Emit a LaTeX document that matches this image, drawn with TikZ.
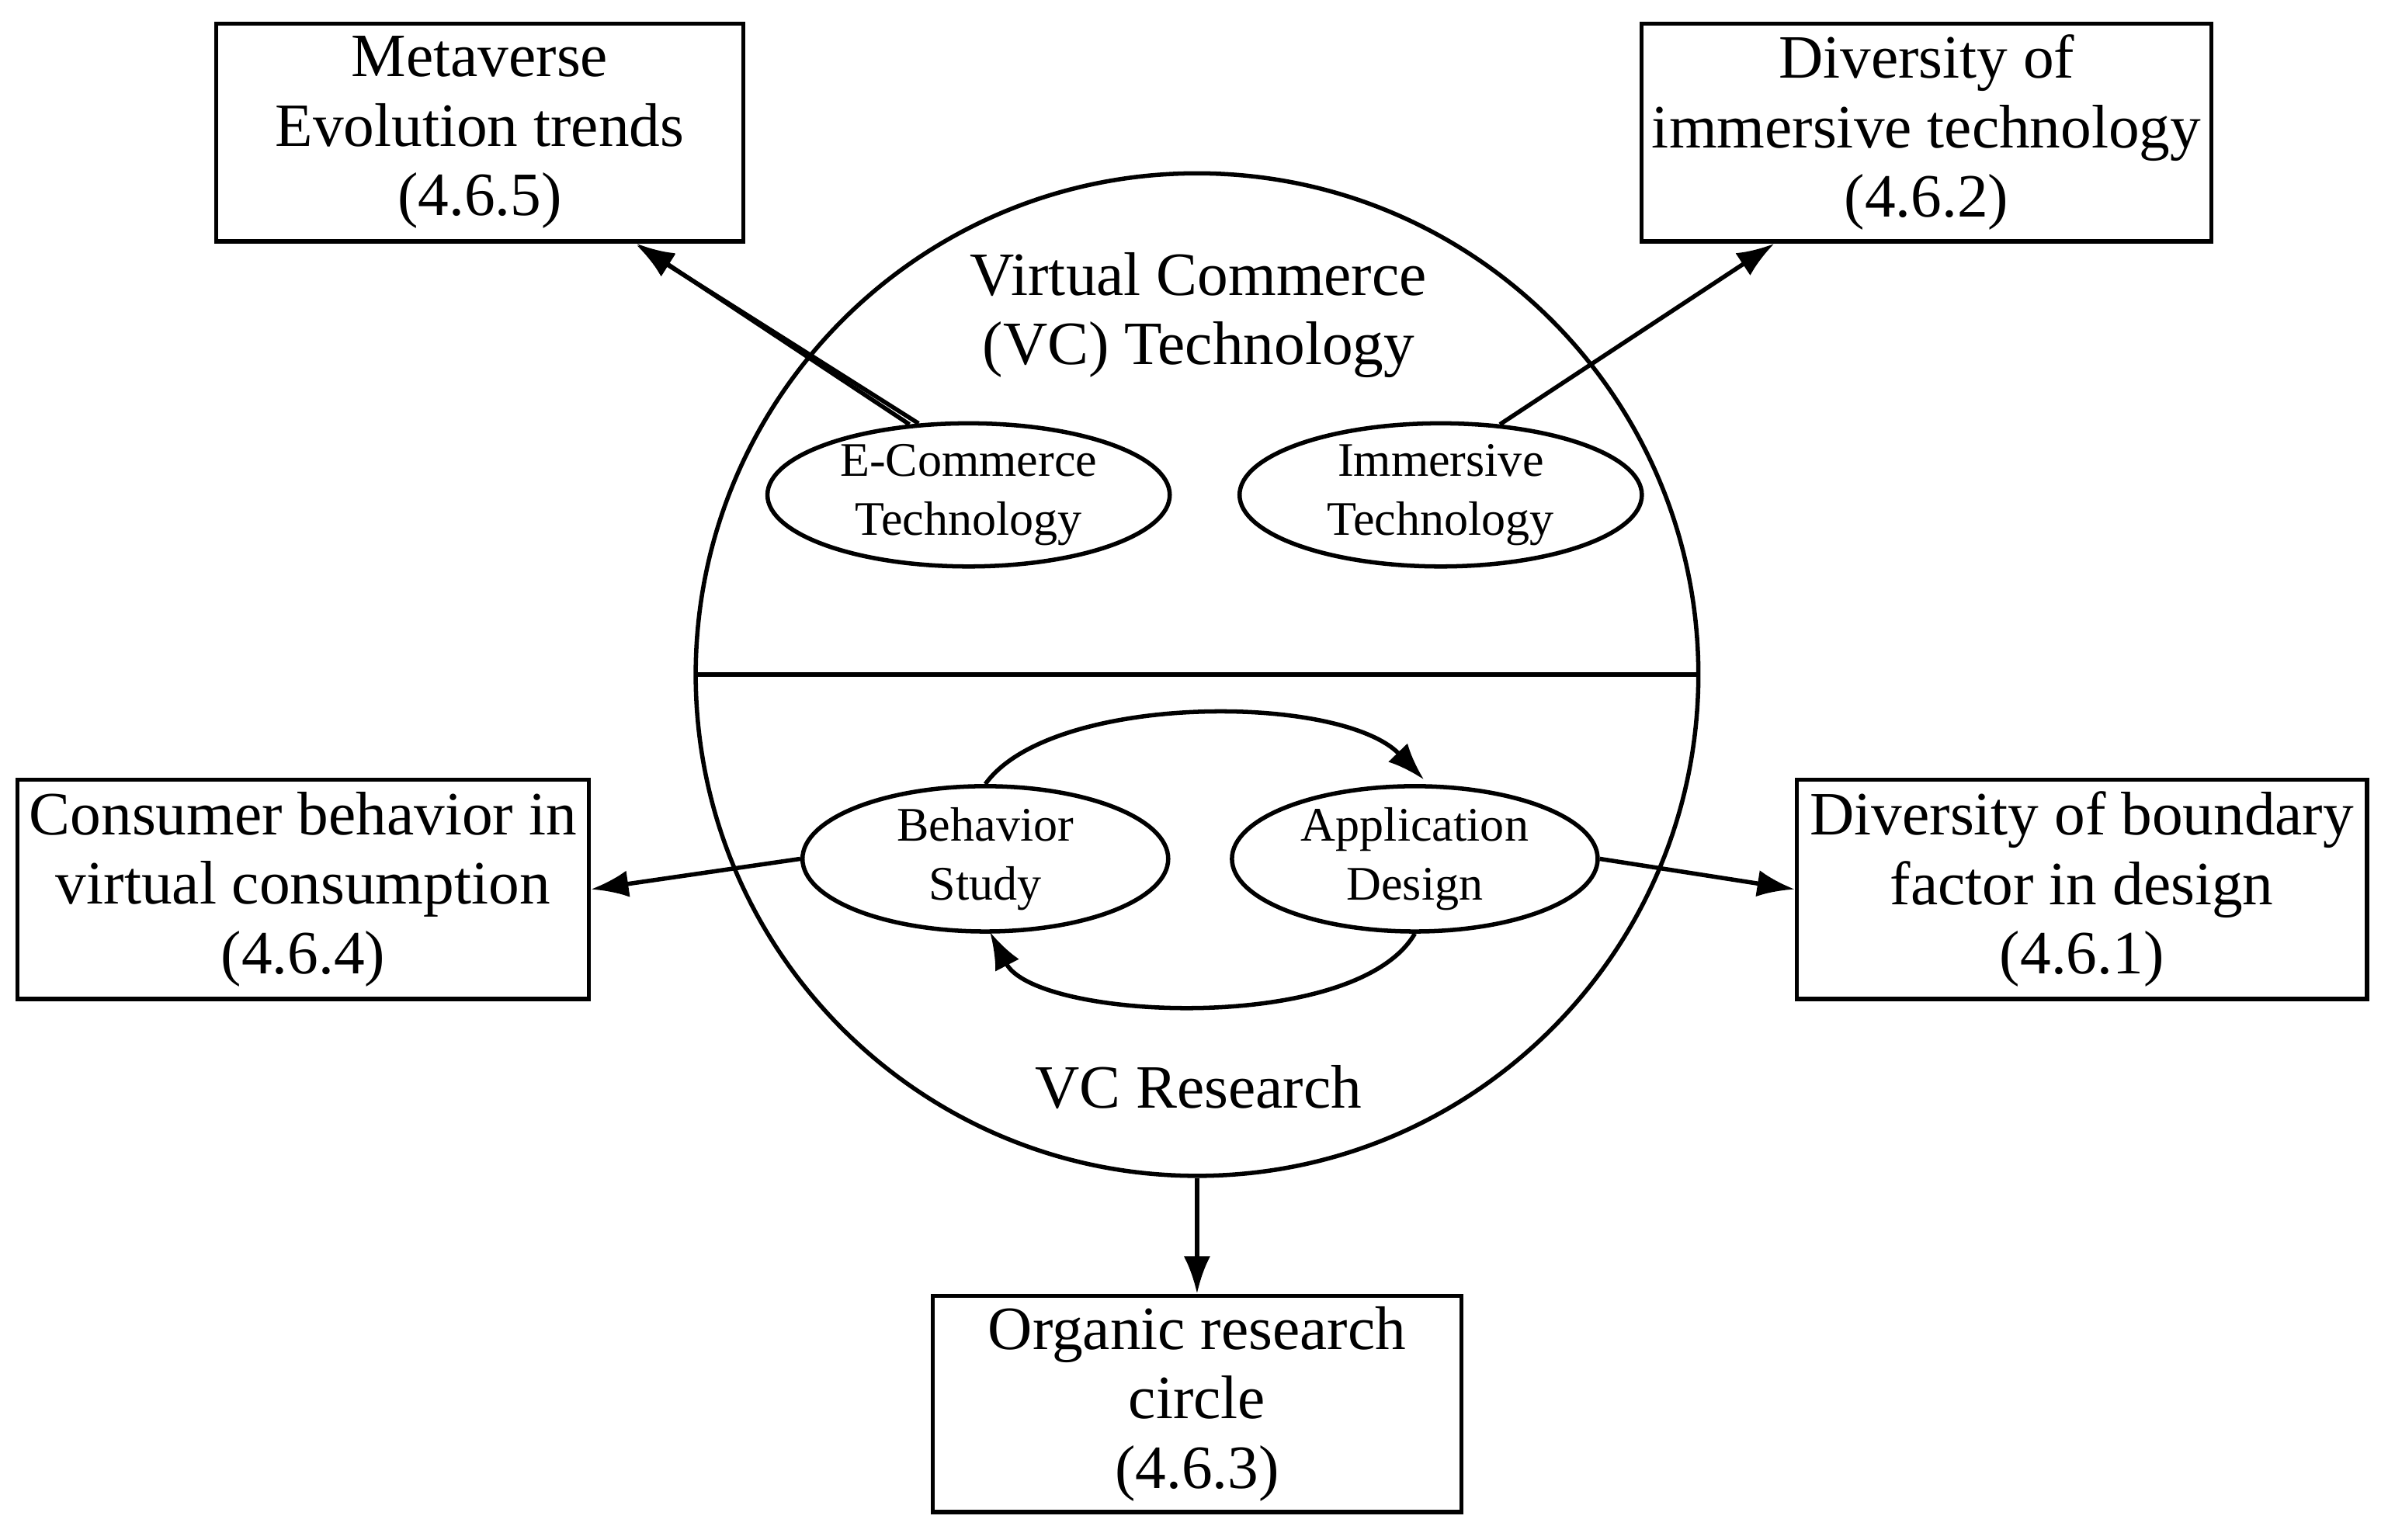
\documentclass[tikz,border=0pt]{standalone}
\usepackage{fontspec}
\setmainfont{Liberation Serif}
\usetikzlibrary{shapes.geometric,arrows.meta}
\begin{document}
\begin{tikzpicture}[x=0.01cm,y=-0.01cm,
  box/.style={draw,line width=0.8pt,align=center,font=\fontsize{11.5}{13}\selectfont,inner sep=0},
  ell/.style={draw,ellipse,line width=0.8pt,minimum width=#1,align=center,font=\fontsize{9}{11}\selectfont,inner sep=0,minimum height=0.8cm},
  arr/.style={line width=0.8pt,-{Latex[length=7pt,width=5pt]}}]
\useasboundingbox (0,0) rectangle (1568,1011);
\node[circle,draw,line width=0.8pt,minimum size=6.58cm,inner sep=0] (c) at (786,443) {};
\coordinate (cl) at (458,443); \coordinate (cr) at (1115,443);
\draw[line width=0.8pt] (cl) -- (cr);
\node[box,minimum width=3.46cm,minimum height=1.43cm] (m) at (315,87) {Metaverse\\Evolution trends\\(4.6.5)};
\node[box,minimum width=3.74cm,minimum height=1.43cm] (d) at (1265,87) {Diversity of\\immersive technology\\(4.6.2)};
\node[box,minimum width=3.75cm,minimum height=1.44cm] (cb) at (199,584) {Consumer behavior in\\virtual consumption\\(4.6.4)};
\node[box,minimum width=3.74cm,minimum height=1.44cm] (b) at (1367,584) {Diversity of boundary\\factor in design\\(4.6.1)};
\node[box,minimum width=3.47cm,minimum height=1.42cm] (o) at (786,922) {Organic research\\circle\\(4.6.3)};
\node[align=center,font=\fontsize{11.5}{13}\selectfont] (t1) at (787,207) {Virtual Commerce\\(VC) Technology};
\node[font=\fontsize{11.5}{13}\selectfont] (t2) at (787,714) {VC Research};
\node[ell=2.64cm] (e1) at (636,325) {E-Commerce\\Technology};
\node[ell=2.64cm] (e2) at (946,325) {Immersive\\Technology};
\node[ell=2.4cm] (e3) at (647,564) {Behavior\\Study};
\node[ell=2.4cm] (e4) at (929,564) {Application\\Design};
\draw[arr] (e1.130) -- (m.south east -| 418,0);
\draw[arr] (e1.125) -- (418,161);
\draw[arr] (e2.50) -- (1165,160);
\draw[arr] (e3.west) -- (cb.east);
\draw[arr] (e4.east) -- (b.west);
\draw[arr] (c.south) -- (o.north);
\draw[arr] (e3.north) .. controls (690,455) and (880,455) .. (935,512);
\draw[arr] (e4.south) .. controls (890,680) and (680,670) .. (650,612);
\end{tikzpicture}
\end{document}
